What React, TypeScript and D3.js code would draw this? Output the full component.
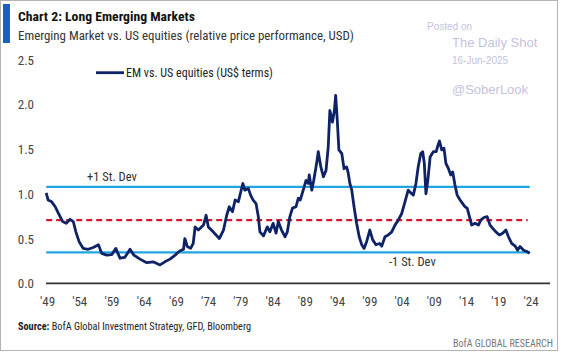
import { useRef, useEffect } from 'react';
import * as d3 from 'd3';

const dates = [
  1948.8, 1949.1, 1949.65, 1950.2, 1950.7, 1951.35, 1951.9, 1952.5, 1953.0, 1953.4, 1953.9,
  1954.55, 1955.3, 1956.1, 1956.9, 1957.4, 1958.2, 1958.95, 1959.6, 1960.25, 1961.0, 1961.8,
  1962.4, 1963.35, 1964.4, 1965.4, 1966.45, 1967.2, 1968.0, 1968.8, 1969.5, 1970.1, 1970.3,
  1970.7, 1971.2, 1971.6, 1971.9, 1972.4, 1973.2, 1973.6, 1973.95, 1974.7, 1975.65, 1976.3,
  1976.8, 1977.2, 1977.7, 1978.1, 1978.6, 1979.3, 1979.6, 1980.15, 1980.5, 1980.9, 1981.35,
  1981.7, 1981.95, 1982.5, 1983.1, 1983.5, 1984.0, 1984.45, 1984.8, 1985.3, 1985.85, 1986.2,
  1986.6, 1987.0, 1987.55, 1987.9, 1988.2, 1988.7, 1989.1, 1989.45, 1989.6, 1990.0, 1990.3,
  1990.75, 1991.0, 1991.4, 1991.8, 1992.2, 1992.55, 1992.8, 1993.2, 1993.5, 1993.7, 1993.95,
  1994.2, 1994.65, 1995.0, 1995.4, 1995.65, 1995.9, 1996.2, 1996.55, 1996.95, 1997.35, 1997.75,
  1998.1, 1998.5, 1999.0, 1999.45, 1999.95, 2000.5, 2000.85, 2001.35, 2001.85, 2002.4, 2002.9,
  2003.4, 2003.95, 2004.45, 2004.95, 2005.5, 2005.75, 2006.15, 2006.5, 2006.9, 2007.2, 2007.45,
  2007.7, 2008.0, 2008.35, 2008.85, 2009.3, 2009.5, 2009.8, 2010.15, 2010.5, 2010.8, 2011.2,
  2011.55, 2011.85, 2012.2, 2012.55, 2013.0, 2013.4, 2013.75, 2014.1, 2014.45, 2014.8, 2015.3,
  2015.85, 2016.2, 2016.7, 2017.2, 2017.65, 2018.05, 2018.55, 2019.1, 2019.6, 2020.1, 2020.5,
  2021.0, 2021.55, 2021.9, 2022.3, 2022.85, 2023.35, 2023.8,
];

const emVsUs = [
  1.01, 0.93, 0.91, 0.855, 0.78, 0.69, 0.67, 0.715, 0.69, 0.575, 0.465,
  0.39, 0.38, 0.4, 0.43, 0.335, 0.315, 0.32, 0.39, 0.28, 0.29, 0.38,
  0.315, 0.27, 0.23, 0.24, 0.205, 0.24, 0.27, 0.315, 0.36, 0.38, 0.5,
  0.41, 0.39, 0.445, 0.63, 0.595, 0.65, 0.76, 0.63, 0.575, 0.5, 0.595,
  0.76, 0.855, 0.8, 0.93, 0.91, 1.115, 1.04, 1.06, 0.985, 0.93, 0.89,
  0.745, 0.575, 0.53, 0.63, 0.575, 0.67, 0.56, 0.69, 0.595, 0.52, 0.575,
  0.745, 0.84, 0.855, 0.95, 0.93, 1.05, 1.15, 1.115, 1.21, 1.04, 1.15,
  1.34, 1.47, 1.3, 1.19, 1.26, 1.525, 1.93, 1.8, 1.93, 2.1, 1.82,
  1.49, 1.45, 1.28, 1.3, 1.23, 1.115, 1.04, 0.855, 0.67, 0.52, 0.43,
  0.39, 0.465, 0.595, 0.485, 0.43, 0.445, 0.415, 0.52, 0.54, 0.575, 0.65,
  0.705, 0.78, 0.91, 1.04, 1.0, 0.985, 1.115, 1.3, 1.45, 1.47, 1.34,
  1.0, 1.15, 1.41, 1.47, 1.47, 1.525, 1.59, 1.49, 1.51, 1.34, 1.28,
  1.21, 1.245, 1.1, 0.985, 0.93, 0.89, 0.855, 0.84, 0.745, 0.65, 0.67,
  0.65, 0.705, 0.735, 0.745, 0.65, 0.615, 0.575, 0.54, 0.56, 0.595, 0.52,
  0.445, 0.415, 0.37, 0.41, 0.37, 0.355, 0.335,
];

const meanLevel = 0.706;
const plusOneSd = 1.078;
const minusOneSd = 0.346;
const yTicks = [0, 0.5, 1.0, 1.5, 2.0, 2.5];
const xTicks = d3.range(1949, 2025, 5);

const W = 564;
const H = 353;
const FONT = "'Liberation Sans Narrow', 'Roboto Condensed', 'Open Sans', sans-serif";
const WM_FONT = "'Liberation Sans', Arial, sans-serif";

export default function App() {
  const svgRef = useRef<SVGSVGElement>(null);

  useEffect(() => {
    if (!svgRef.current) return;
    const svg = d3.select(svgRef.current);
    svg.selectAll('*').remove();

    svg.append('rect').attr('width', W).attr('height', H).attr('fill', '#fff');
    svg.append('rect')
      .attr('x', 0.5).attr('y', 0.5).attr('width', 557).attr('height', 350)
      .attr('fill', 'none').attr('stroke', '#b4b4b4');

    // title block
    svg.append('rect').attr('x', 3).attr('y', 4).attr('width', 7).attr('height', 39).attr('fill', '#1a5fc8');
    svg.append('text')
      .attr('x', 18).attr('y', 21)
      .attr('font-family', FONT).attr('font-size', 13.5).attr('font-weight', 700)
      .attr('fill', '#111')
      .attr('textLength', 177).attr('lengthAdjust', 'spacingAndGlyphs')
      .text('Chart 2: Long Emerging Markets');
    svg.append('text')
      .attr('x', 18).attr('y', 40)
      .attr('font-family', FONT).attr('font-size', 13)
      .attr('fill', '#333')
      .attr('textLength', 336).attr('lengthAdjust', 'spacingAndGlyphs')
      .text('Emerging Market vs. US equities (relative price performance, USD)');

    // watermark
    const wm = svg.append('g').attr('font-family', WM_FONT).attr('fill', '#c3c3dd');
    wm.append('text').attr('x', 427).attr('y', 30).attr('font-size', 10).text('Posted on');
    wm.append('text').attr('x', 452).attr('y', 47).attr('font-size', 13).text('The Daily Shot');
    wm.append('text').attr('x', 452).attr('y', 64).attr('font-size', 10).text('16-Jun-2025');
    wm.append('text').attr('x', 452).attr('y', 94).attr('font-size', 13).text('@SoberLook');

    const x = d3.scaleLinear().domain([1949, 2024]).range([47.5, 531]);
    const y = d3.scaleLinear().domain([0, 2.5]).range([283.3, 59.5]);

    // y labels
    svg.append('g')
      .selectAll('text')
      .data(yTicks)
      .enter()
      .append('text')
      .attr('x', 34).attr('y', (d) => y(d) + 5)
      .attr('text-anchor', 'end')
      .attr('font-family', FONT).attr('font-size', 13)
      .attr('fill', '#444')
      .text((d) => d.toFixed(1));

    // x labels
    svg.append('g')
      .selectAll('text')
      .data(xTicks)
      .enter()
      .append('text')
      .attr('x', (d) => x(d)).attr('y', 306)
      .attr('text-anchor', 'middle')
      .attr('font-family', FONT).attr('font-size', 13)
      .attr('fill', '#444')
      .text((d) => `'${String(d).slice(2)}`);

    // baseline
    svg.append('line')
      .attr('x1', 46).attr('x2', 550)
      .attr('y1', y(0)).attr('y2', y(0))
      .attr('stroke', '#333').attr('stroke-width', 1.8);

    // std dev bands
    const x0 = x(dates[0]);
    const x1 = x(dates[dates.length - 1]);
    [plusOneSd, minusOneSd].forEach((v) => {
      svg.append('line')
        .attr('x1', x0).attr('x2', x1)
        .attr('y1', y(v)).attr('y2', y(v))
        .attr('stroke', '#1fa6e2').attr('stroke-width', 2.2);
    });
    svg.append('line')
      .attr('x1', x0).attr('x2', x1 - 2)
      .attr('y1', y(meanLevel)).attr('y2', y(meanLevel))
      .attr('stroke', '#d11a2f').attr('stroke-width', 2.2)
      .attr('stroke-dasharray', '6,4');

    svg.append('text')
      .attr('x', 87).attr('y', 181)
      .attr('font-family', FONT).attr('font-size', 12.5).attr('fill', '#333')
      .text('+1 St. Dev');
    svg.append('text')
      .attr('x', 389).attr('y', 266)
      .attr('font-family', FONT).attr('font-size', 12.5).attr('fill', '#333')
      .text('-1 St. Dev');

    // series
    const pts = dates.map((d, i) => [d, emVsUs[i]] as [number, number]);
    const line = d3.line<[number, number]>()
      .x((d) => x(d[0]))
      .y((d) => y(d[1]));
    svg.append('path')
      .datum(pts)
      .attr('d', line)
      .attr('fill', 'none')
      .attr('stroke', '#0e2266')
      .attr('stroke-width', 2.8)
      .attr('stroke-linejoin', 'round');

    // legend
    svg.append('line')
      .attr('x1', 96).attr('x2', 124).attr('y1', 72.7).attr('y2', 72.7)
      .attr('stroke', '#0e2266').attr('stroke-width', 2.8);
    svg.append('text')
      .attr('x', 126).attr('y', 77)
      .attr('font-family', FONT).attr('font-size', 12).attr('fill', '#222')
      .text('EM vs. US equities (US$ terms)');

    // footer
    const src = svg.append('text')
      .attr('x', 18).attr('y', 330)
      .attr('font-family', FONT).attr('font-size', 10.5).attr('fill', '#222')
      .attr('textLength', 233).attr('lengthAdjust', 'spacingAndGlyphs');
    src.append('tspan').attr('font-weight', 700).text('Source:');
    src.append('tspan').text('  BofA Global Investment Strategy, GFD, Bloomberg');
    svg.append('text')
      .attr('x', 553).attr('y', 347)
      .attr('text-anchor', 'end')
      .attr('font-family', FONT).attr('font-size', 10.5).attr('fill', '#777')
      .attr('textLength', 100).attr('lengthAdjust', 'spacingAndGlyphs')
      .text('BofA GLOBAL RESEARCH');
  }, []);

  return (
    <svg
      ref={svgRef}
      width={W}
      height={H}
      style={{ position: 'absolute', left: 0, top: 0, display: 'block' }}
    />
  );
}
